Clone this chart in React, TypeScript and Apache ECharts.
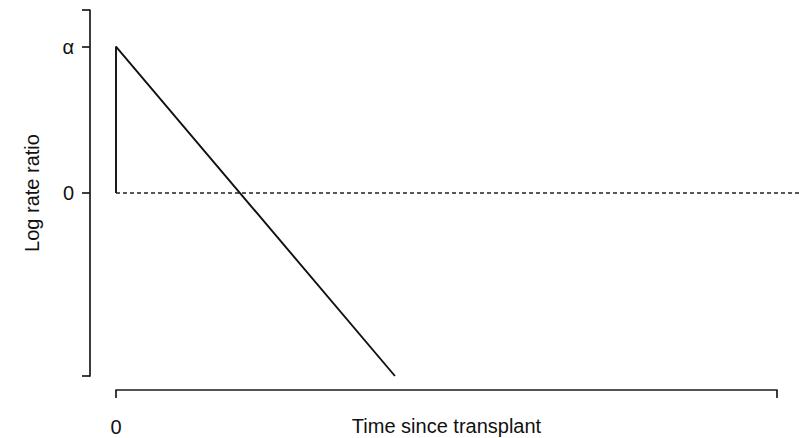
import React, { useEffect, useRef } from "react";
import * as echarts from "echarts";

// Data (log rate ratio in units of alpha, time as fraction of axis span)
const effectTimes = [0, 0, 0.422];
const effectValues = [0, 1, -1.25];
const refTimes = [0, 1.034];
const refValues = [0, 0];
const yTickValues = [-1.25, 0, 1, 1.25];
const yLabelValues = [0, 1];
const yLabelTexts: Record<string, string> = { "0": "0", "1": "α" };
const xTickValues = [0, 1];
const xLabelValues = [0];

const FONT = "Liberation Sans, Arial, Helvetica, sans-serif";

export default function App() {
  const ref = useRef<HTMLDivElement>(null);
  useEffect(() => {
    if (!ref.current) return;
    const chart = echarts.init(ref.current, undefined, { renderer: "svg" });
    chart.setOption({
      animation: false,
      backgroundColor: "#ffffff",
      grid: [
        { left: 116, right: 22, top: 10, bottom: 62, containLabel: false, outerBoundsMode: "none" },
        { left: 116, right: 0, top: 10, bottom: 62, containLabel: false, outerBoundsMode: "none" },
      ],
      xAxis: [
        {
          type: "value",
          gridIndex: 0,
          min: 0,
          max: 1,
          offset: 14,
          name: "Time since transplant",
          nameLocation: "middle",
          nameGap: 26,
          nameMoveOverlap: false,
          nameTextStyle: { fontFamily: FONT, fontSize: 20, color: "#111" },
          axisLine: { show: true, onZero: false, lineStyle: { color: "#1a1a1a", width: 1.7 } },
          axisTick: { show: true, length: 8, customValues: xTickValues, lineStyle: { color: "#1a1a1a", width: 1.7 } },
          axisLabel: { customValues: xLabelValues, margin: 27, fontFamily: FONT, fontSize: 20, color: "#111" },
          splitLine: { show: false },
        },
        {
          type: "value",
          gridIndex: 1,
          min: 0,
          max: 1.034,
          show: false,
        },
      ],
      yAxis: [
        {
          type: "value",
          gridIndex: 0,
          min: -1.25,
          max: 1.25,
          offset: 26,
          name: "Log rate ratio",
          nameLocation: "middle",
          nameGap: 48,
          nameMoveOverlap: false,
          nameTextStyle: { fontFamily: FONT, fontSize: 20, color: "#111" },
          axisLine: { show: true, onZero: false, lineStyle: { color: "#1a1a1a", width: 1.7 } },
          axisTick: { show: true, length: 8, customValues: yTickValues, lineStyle: { color: "#1a1a1a", width: 1.7 } },
          axisLabel: {
            customValues: yLabelValues,
            margin: 16,
            fontFamily: FONT,
            fontSize: 20,
            color: "#111",
            formatter: (v: number) => yLabelTexts[String(v)] ?? "",
          },
          splitLine: { show: false },
        },
        {
          type: "value",
          gridIndex: 1,
          min: -1.25,
          max: 1.25,
          show: false,
        },
      ],
      series: [
        {
          type: "line",
          xAxisIndex: 1,
          yAxisIndex: 1,
          data: refTimes.map((t, i) => [t, refValues[i]]),
          symbol: "none",
          silent: true,
          lineStyle: { color: "#222", width: 1.5, type: [4, 3] },
        },
        {
          type: "line",
          xAxisIndex: 0,
          yAxisIndex: 0,
          data: effectTimes.map((t, i) => [t, effectValues[i]]),
          symbol: "none",
          clip: false,
          lineStyle: { color: "#111", width: 1.9 },
        },
      ],
    });
    return () => chart.dispose();
  }, []);
  return <div ref={ref} style={{ width: 799, height: 438, position: "absolute", left: 0, top: 0 }} />;
}
